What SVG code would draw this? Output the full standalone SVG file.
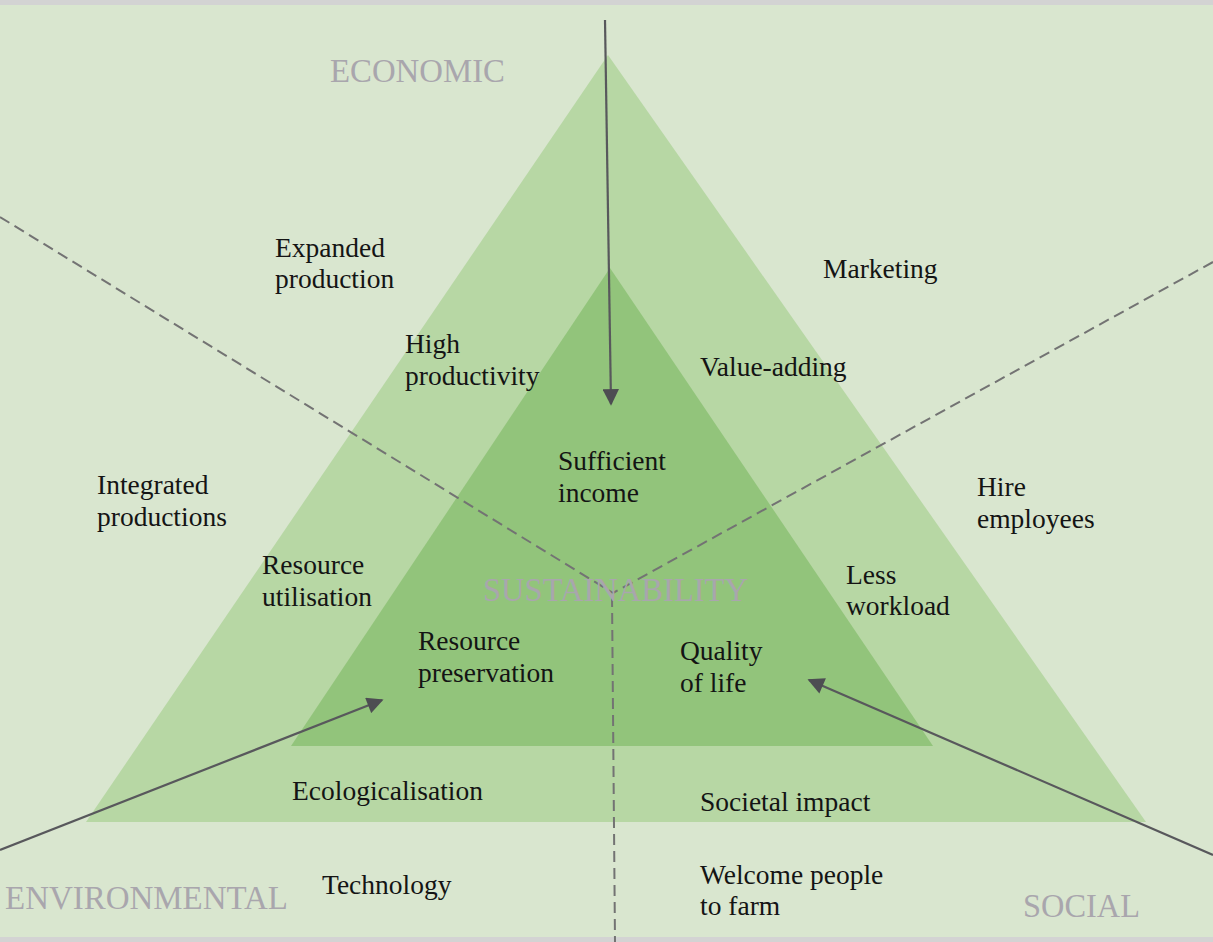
<svg xmlns="http://www.w3.org/2000/svg" width="1213" height="942" viewBox="0 0 1213 942">
  <style>
    .lbl { font-family: "Liberation Serif", "Times New Roman", serif; font-size: 27.5px; fill: #141414; }
    .dim { font-family: "Liberation Serif", "Times New Roman", serif; fill: #a9a6ad; }
    .dash { fill: none; stroke: #737373; stroke-width: 2; stroke-dasharray: 11 6; }
    .arrow { fill: none; stroke: #58585c; stroke-width: 2.2; marker-end: url(#head); }
  </style>
  <defs>
    <marker id="head" viewBox="0 0 10 10" refX="9" refY="5" markerWidth="8.5" markerHeight="7.5" markerUnits="strokeWidth" orient="auto">
      <path d="M0,0 L10,5 L0,10 Z" fill="#4d4d52"/>
    </marker>
  </defs>

  <!-- backdrop and frame bands -->
  <rect x="0" y="0" width="1213" height="942" fill="#d9e6cf"/>
  <rect x="0" y="0" width="1213" height="5" fill="#d3d3d3"/>
  <rect x="0" y="937" width="1213" height="5" fill="#d3d3d3"/>

  <!-- nested triangles -->
  <g id="outer-triangle">
    <polygon points="608,55 86,822 1146,822" fill="#b7d7a4"/>
  </g>
  <g id="inner-triangle">
    <polygon points="610,268 291,746 933,746" fill="#92c47b"/>
  </g>

  <!-- connectors -->
  <g id="connectors">
    <path class="dash" d="M0,217 L613,593"/>
    <path class="dash" d="M1213,262 L613,593"/>
    <path class="dash" d="M612,596 L615,942"/>
    <path class="arrow" d="M605,20 L611,404"/>
    <path class="arrow" d="M0,850 L382,700"/>
    <path class="arrow" d="M1213,855 L809,680"/>
  </g>

  <!-- dimension headings -->
  <g id="economic"><text class="dim" x="330" y="82" font-size="34" textLength="175" lengthAdjust="spacingAndGlyphs">ECONOMIC</text></g>
  <g id="sustainability"><text class="dim" x="483" y="601" font-size="34" textLength="265" lengthAdjust="spacingAndGlyphs">SUSTAINABILITY</text></g>
  <g id="environmental"><text class="dim" x="5" y="909" font-size="33" textLength="283" lengthAdjust="spacingAndGlyphs">ENVIRONMENTAL</text></g>
  <g id="social"><text class="dim" x="1023" y="917" font-size="33" textLength="117" lengthAdjust="spacingAndGlyphs">SOCIAL</text></g>

  <!-- factor labels -->
  <g id="expanded-production"><text class="lbl" x="275" y="257">Expanded<tspan x="275" y="288">production</tspan></text></g>
  <g id="marketing"><text class="lbl" x="823" y="278">Marketing</text></g>
  <g id="high-productivity"><text class="lbl" x="405" y="353">High<tspan x="405" y="385">productivity</tspan></text></g>
  <g id="value-adding"><text class="lbl" x="700" y="376">Value-adding</text></g>
  <g id="sufficient-income"><text class="lbl" x="558" y="470">Sufficient<tspan x="558" y="502">income</tspan></text></g>
  <g id="integrated-productions"><text class="lbl" x="97" y="494">Integrated<tspan x="97" y="526">productions</tspan></text></g>
  <g id="hire-employees"><text class="lbl" x="977" y="496">Hire<tspan x="977" y="528">employees</tspan></text></g>
  <g id="resource-utilisation"><text class="lbl" x="262" y="574">Resource<tspan x="262" y="606">utilisation</tspan></text></g>
  <g id="less-workload"><text class="lbl" x="846" y="584">Less<tspan x="846" y="615">workload</tspan></text></g>
  <g id="resource-preservation"><text class="lbl" x="418" y="650">Resource<tspan x="418" y="682">preservation</tspan></text></g>
  <g id="quality-of-life"><text class="lbl" x="680" y="660">Quality<tspan x="680" y="692">of life</tspan></text></g>
  <g id="ecologicalisation"><text class="lbl" x="292" y="800">Ecologicalisation</text></g>
  <g id="societal-impact"><text class="lbl" x="700" y="811">Societal impact</text></g>
  <g id="technology"><text class="lbl" x="322" y="894">Technology</text></g>
  <g id="welcome-people"><text class="lbl" x="700" y="884">Welcome people<tspan x="700" y="915">to farm</tspan></text></g>
</svg>
